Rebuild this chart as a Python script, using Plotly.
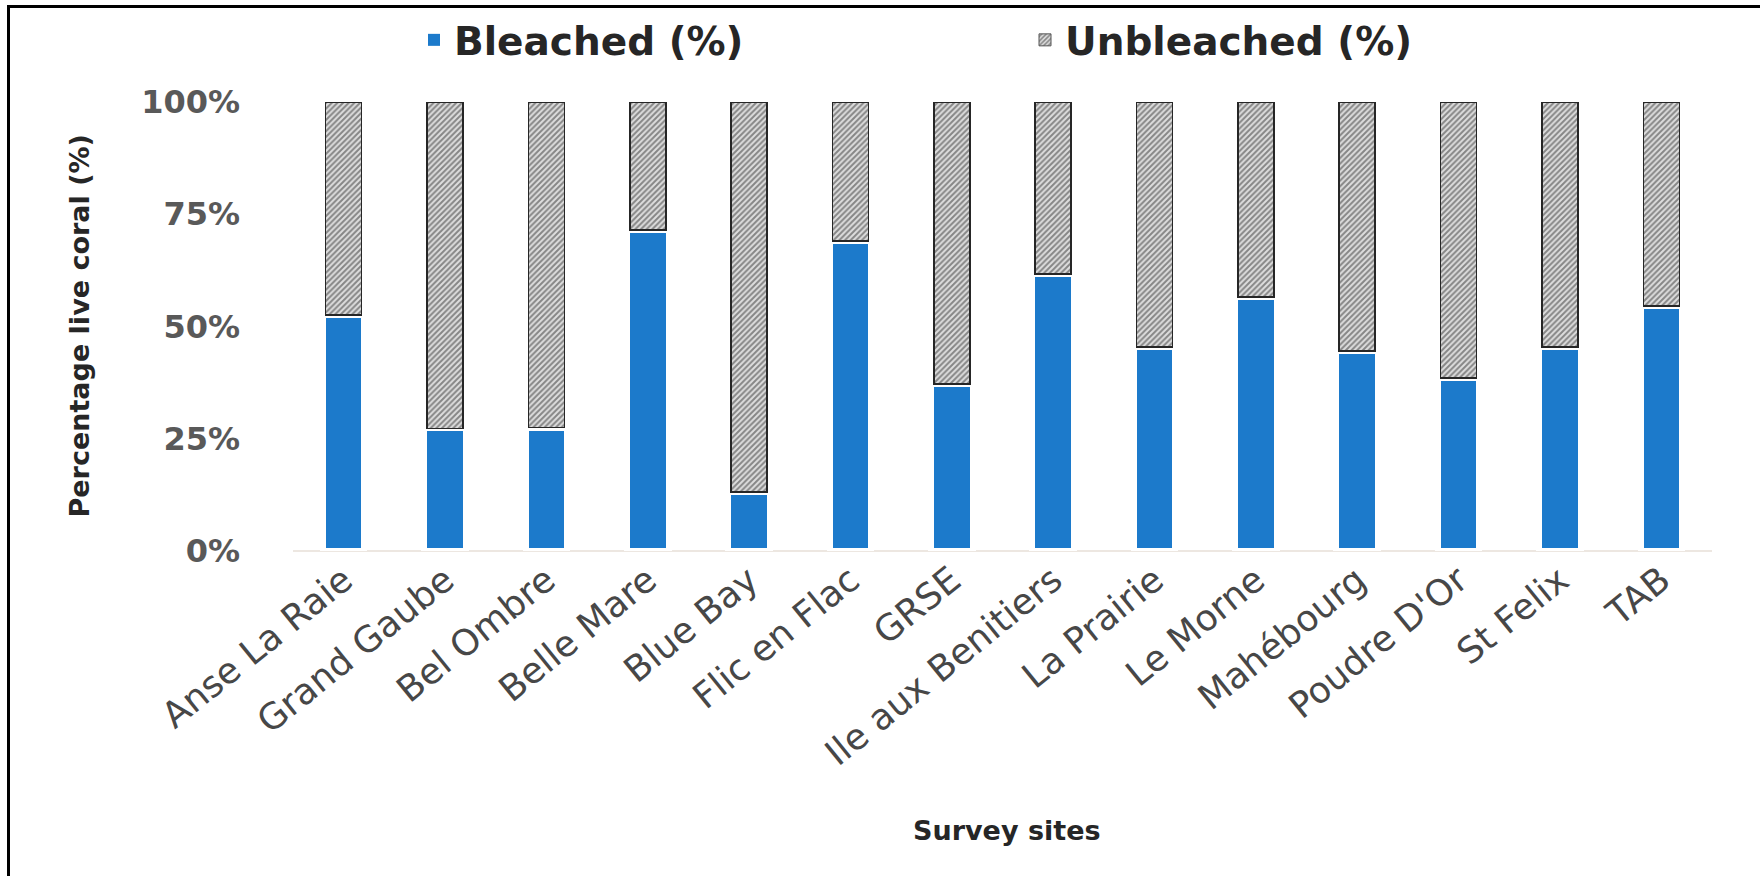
import plotly.graph_objects as go

# Coral bleaching survey: share of live coral bleached vs unbleached per site
sites = [
    "Anse La Raie", "Grand Gaube", "Bel Ombre", "Belle Mare", "Blue Bay",
    "Flic en Flac", "GRSE", "Ile aux Benitiers", "La Prairie", "Le Morne",
    "Mahébourg", "Poudre D'Or", "St Felix", "TAB",
]
bleached = [52.5, 27.3, 27.5, 71.5, 13.2, 69.0, 37.2, 61.7, 45.5, 56.6, 44.5, 38.5, 45.5, 54.6]
unbleached = [round(100 - b, 1) for b in bleached]

y_tickvals = [0, 25, 50, 75, 100]
y_ticktext = ["0%", "25%", "50%", "75%", "100%"]

W, H = 1760, 876
L, R, T, B = 293, 48, 102, 325
plot_w = W - L - R
plot_h = H - T - B


def px_x(px):
    return (px - L) / plot_w


def px_y(py):
    return (H - B - py) / plot_h


BLUE = "#1c7acb"
TEXT_DARK = "#262626"
TEXT_GREY = "#474747"

HATCH = dict(shape="/", fgcolor="#2e2e2e", bgcolor="#dedede", size=4, solidity=0.5)

fig = go.Figure()
# bleached share; the wide white outline leaves a small gap under each hatched segment
fig.add_trace(go.Bar(
    name="Bleached (%)",
    x=sites,
    y=bleached,
    width=0.41,
    showlegend=False,
    marker=dict(color=BLUE, line=dict(color="white", width=6)),
))
fig.add_trace(go.Bar(
    name="Unbleached (%)",
    x=sites,
    y=unbleached,
    width=0.355,
    showlegend=False,
    marker=dict(
        color="#dedede",
        line=dict(color="#262626", width=1.6),
        pattern=HATCH,
    ),
))
# legend entries
fig.add_trace(go.Bar(
    name="Bleached (%)", x=[sites[0]], y=[None],
    marker=dict(color=BLUE, line=dict(width=0)),
    hoverinfo="skip",
))
fig.add_trace(go.Bar(
    name="Unbleached (%)", x=[sites[0]], y=[None],
    marker=dict(color="#dedede", line=dict(color="#555555", width=1), pattern=HATCH),
    hoverinfo="skip",
))

fig.update_layout(
    width=W,
    height=H,
    margin=dict(l=L, r=R, t=T, b=B),
    barmode="stack",
    paper_bgcolor="white",
    plot_bgcolor="white",
    showlegend=True,
    legend=dict(
        orientation="h",
        xref="container", yref="container",
        x=414 / W, y=1 - 40 / H,
        xanchor="left", yanchor="middle",
        entrywidth=566, entrywidthmode="pixels",
        font=dict(family="DejaVu Sans", size=39, color=TEXT_DARK, weight="bold"),
        bgcolor="rgba(0,0,0,0)",
        traceorder="normal",
    ),
    xaxis=dict(
        type="category",
        range=[-0.5, len(sites) - 0.5],
        showgrid=False,
        showline=False,
        ticks="",
        tickangle=-39,
        ticklabelstandoff=0,
        tickfont=dict(family="DejaVu Sans", size=36, color=TEXT_GREY),
        fixedrange=True,
    ),
    yaxis=dict(
        range=[0, 100],
        tickvals=y_tickvals,
        ticktext=y_ticktext,
        showgrid=False,
        zeroline=True,
        zerolinecolor="#ede7e1",
        zerolinewidth=2,
        showline=False,
        ticks="",
        ticklabelstandoff=52,
        tickfont=dict(family="DejaVu Sans", size=32, color="#595959", weight="bold"),
        fixedrange=True,
    ),
    annotations=[
        dict(
            text="Percentage live coral (%)",
            xref="paper", yref="paper",
            x=px_x(79), y=0.5,
            xanchor="center", yanchor="middle",
            textangle=-90, showarrow=False,
            font=dict(family="DejaVu Sans", size=27, color=TEXT_DARK, weight="bold"),
        ),
        dict(
            text="Survey sites",
            xref="paper", yref="paper",
            x=px_x(1007), y=px_y(830),
            xanchor="center", yanchor="middle",
            showarrow=False,
            font=dict(family="DejaVu Sans", size=27, color=TEXT_DARK, weight="bold"),
        ),
    ],
    shapes=[
        # frame: top and left edges
        dict(type="line", xref="paper", yref="paper",
             x0=px_x(8), x1=px_x(W + 5), y0=px_y(6.5), y1=px_y(6.5),
             line=dict(color="black", width=3)),
        dict(type="line", xref="paper", yref="paper",
             x0=px_x(8.5), x1=px_x(8.5), y0=px_y(5), y1=px_y(H + 5),
             line=dict(color="black", width=3)),
    ],
)

fig.write_html("out.html")
